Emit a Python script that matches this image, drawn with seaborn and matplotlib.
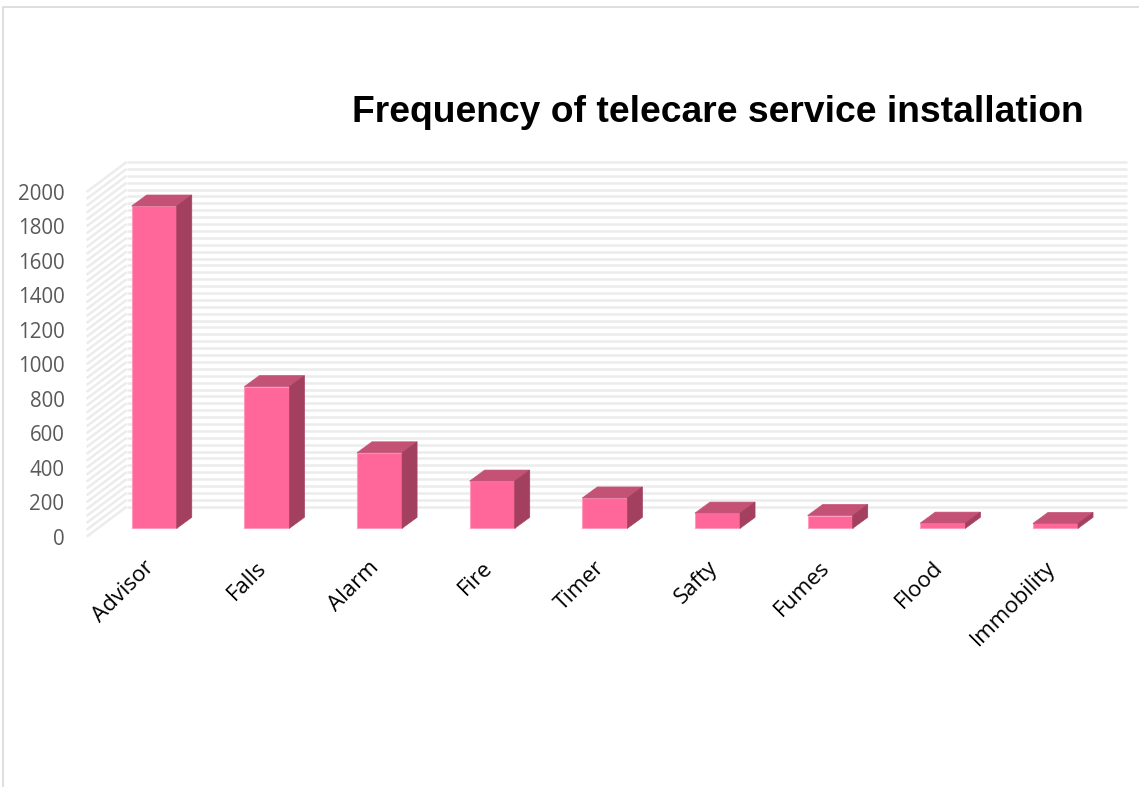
import matplotlib
matplotlib.use("Agg")
import matplotlib.pyplot as plt
import numpy as np
import pandas as pd
import seaborn as sns
from matplotlib.transforms import ScaledTranslation
from matplotlib.patches import Polygon, Rectangle

# Installations per telecare service
services = ["Advisor", "Falls", "Alarm", "Fire", "Timer", "Safty", "Fumes", "Flood", "Immobility"]
installs = [1870, 822, 438, 274, 176, 88, 74, 30, 28]
y_ticks = [0, 200, 400, 600, 800, 1000, 1200, 1400, 1600, 1800, 2000]
wall_step = 40

FRONT = "#FF6699"
TOP = "#C45176"
SIDE = "#A34060"
WALL_LINE = "#ECECEC"

sns.set_theme(style="white")
plt.rcParams["font.family"] = ["Open Sans", "DejaVu Sans"]

W, H, DPI = 1139, 787, 100
fig = plt.figure(figsize=(W / DPI, H / DPI), dpi=DPI)

# axes = front plane of the 3-D box (pixel geometry)
x_left, x_right = 86.6, 1087.0
y_zero, y_top = 536.7, 192.0
ax = fig.add_axes([x_left / W, (H - y_zero) / H, (x_right - x_left) / W, (y_zero - y_top) / H])
ax.set_xlim(-0.5, 8.38)
ax.set_ylim(0, 2000)

df = pd.DataFrame({"service": services, "installs": installs})
sns.barplot(data=df, x="service", y="installs", color=FRONT, saturation=1,
            width=0.40, errorbar=None, ax=ax, zorder=3,
            edgecolor="#FF9CBD", linewidth=0.8)
ax.set_xlim(-0.5, 8.38)
ax.set_ylim(0, 2000)

def px(v):
    return v / DPI

# depth offsets (pixels): bars sit partway into the box, wall at the back
bar_shift = ScaledTranslation(px(11.3), px(8.4), fig.dpi_scale_trans)
wall_dx, wall_dy = 40.0, 30.0
depth_dx, depth_dy = 15.0, 11.0

# pixel -> data unit conversion through the axes scales
p0 = ax.transData.transform((0, 0))
p1 = ax.transData.transform((1, 1000))
ppx = p1[0] - p0[0]
ppy = (p1[1] - p0[1]) / 1000.0

# back wall gridlines
xmin, xmax = ax.get_xlim()
wall_trans = ax.transData + ScaledTranslation(px(wall_dx), px(wall_dy), fig.dpi_scale_trans)
for v in range(0, 2001, wall_step):
    ax.plot([xmin, xmax], [v, v], transform=wall_trans, color=WALL_LINE,
            lw=1.8, clip_on=False, zorder=1, solid_capstyle="butt")
    # side wall lines running from front edge to the back wall
    ax.plot([xmin, xmin + wall_dx / ppx], [v, v + wall_dy / ppy],
            color=WALL_LINE, lw=1.8, clip_on=False, zorder=1, solid_capstyle="butt")

# 3-D faces on each bar
ddx = depth_dx / ppx
ddy = depth_dy / ppy
for patch in list(ax.patches):
    x0 = patch.get_x()
    w = patch.get_width()
    h = patch.get_height()
    patch.set_transform(ax.transData + bar_shift)
    patch.set_clip_on(False)
    top = Polygon([(x0, h), (x0 + w, h), (x0 + w + ddx, h + ddy), (x0 + ddx, h + ddy)],
                  closed=True, facecolor=TOP, edgecolor=TOP, lw=0.5,
                  transform=ax.transData + bar_shift, clip_on=False, zorder=3)
    side = Polygon([(x0 + w, 0), (x0 + w + ddx, ddy), (x0 + w + ddx, h + ddy), (x0 + w, h)],
                   closed=True, facecolor=SIDE, edgecolor=SIDE, lw=0.5,
                   transform=ax.transData + bar_shift, clip_on=False, zorder=3)
    ax.add_patch(top)
    ax.add_patch(side)

for s in ax.spines.values():
    s.set_visible(False)
ax.grid(False)
ax.set_xlabel("")
ax.set_ylabel("")

ax.set_yticks(y_ticks)
ax.set_yticklabels([str(t) for t in y_ticks], fontsize=14.8, color="#595959")
ax.tick_params(axis="y", length=0, pad=16.0)
ax.tick_params(axis="x", length=0, pad=20)
ax.set_xticks(range(len(services)))
ax.set_xticklabels(services, rotation=45, ha="right", va="center",
                   rotation_mode="anchor", fontsize=16, color="#000000")
label_shift = ScaledTranslation(px(8), px(0), fig.dpi_scale_trans)
for lbl in ax.get_xticklabels():
    lbl.set_transform(lbl.get_transform() + label_shift)

fig.text(717.5 / W, 1 - 112 / H, "Frequency of telecare service installation",
         ha="center", va="center", fontsize=26.8, fontweight="bold",
         family=["Liberation Sans", "DejaVu Sans"], color="#000000")

# outer frame
fig.add_artist(Rectangle((3 / W, -0.05), 1.2, (1 - 7 / H) + 0.05,
                         transform=fig.transFigure, fill=False,
                         edgecolor="#D9D9D9", lw=1.2))

fig.savefig("out.png", dpi=DPI, facecolor="white")
